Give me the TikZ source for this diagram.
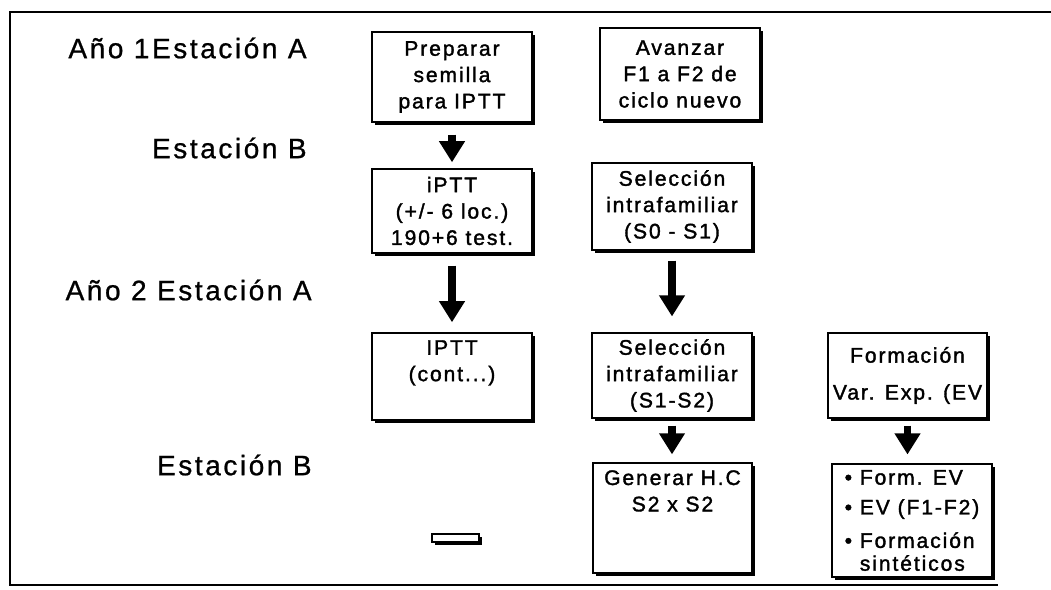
\documentclass[tikz,border=0pt]{standalone}
\usepackage{fontspec}
\setmainfont{Liberation Sans}[LetterSpace=9]
\newfontfamily\boxfont{Liberation Sans}[LetterSpace=9, FakeBold=1.6]
\newfontfamily\rowfont{Liberation Sans}[LetterSpace=9, FakeBold=0.8]
\usetikzlibrary{positioning,shadows,arrows.meta}

\begin{document}
\begin{tikzpicture}[
	box/.style={draw, rectangle, fill=white, line width=0.8pt, align=center,
		drop shadow={shadow xshift=1.8pt, shadow yshift=-1.8pt, fill=black, opacity=1},
		font=\boxfont\fontsize{12}{15}\selectfont},
	inbox/.style={align=center, font=\boxfont\fontsize{12}{15}\selectfont},
	rowlabel/.style={anchor=east, inner sep=0pt, font=\rowfont\fontsize{16}{19}\selectfont},
	flow/.style={line width=4.2pt, -{Triangle[width=14pt,length=12pt]}}
	]
			
			\useasboundingbox (0,0) rectangle (21.02,-11.78);
			
			%Frame
			\draw[line width=0.9pt] (21.02,-0.24) -- (0.2,-0.24) -- (0.2,-11.7) -- (19.96,-11.7);
			
			%Years and stations
			\node (year one a) at (6.14,-0.96) [rowlabel]{Año 1Estación A};
			\node (year one b) at (6.14,-2.96) [rowlabel]{Estación B};
			\node (year two a) at (6.24,-5.8) [rowlabel]{Año 2 Estación A};
			\node (year two b) at (6.24,-9.3) [rowlabel]{Estación B};
			
			%First column
			\node (prep) at (9.04,-1.54) [box, minimum height=1.8cm, minimum width=3.2cm]{Preparar\\semilla\\para IPTT};
			\node (iptt) at (9.04,-4.22) [box, minimum height=1.68cm, minimum width=3.2cm]{iPTT\\(+/- 6 loc.)\\190+6 test.};
			\node (cont) at (9.04,-7.53) [box, minimum height=1.74cm, minimum width=3.2cm]{};
			\node (cont text) [inbox, below=1pt of cont.north]{IPTT\\(cont...)};
			\node (slot) at (9.11,-10.76) [box, minimum height=0.16cm, minimum width=0.94cm, inner sep=0pt]{};
			
			%Second column
			\node (avan) at (13.6,-1.48) [box, minimum height=1.84cm, minimum width=3.2cm]{Avanzar\\F1 a F2 de\\ciclo nuevo};
			\node (sel one) at (13.44,-4.13) [box, minimum height=1.74cm, minimum width=3.2cm]{Selección\\intrafamiliar\\(S0 - S1)};
			\node (sel two) at (13.44,-7.51) [box, minimum height=1.7cm, minimum width=3.2cm]{Selección\\intrafamiliar\\(S1-S2)};
			\node (gen) at (13.45,-10.36) [box, minimum height=2.2cm, minimum width=3.18cm]{};
			\node (gen text) [inbox, below=1pt of gen.north]{Generar H.C\\S2 x S2};
			
			%Third column
			\node (form) at (18.15,-7.51) [box, minimum height=1.7cm, minimum width=3.18cm, inner sep=1pt]{Formación\\[6pt]Var. Exp. (EV};
			\node (bul) at (18.24,-10.41) [box, minimum height=2.26cm, minimum width=3.2cm, align=left]{\textbullet\ Form. EV\\[2pt]\textbullet\ EV (F1-F2)\\[4pt]\textbullet\ Formación\\[-2pt]\hphantom{\textbullet\ }sintéticos};
			
			%Arrows
			\draw[flow, shorten <=6.8pt, shorten >=3.4pt] (prep.south) -- (iptt.north);
			\draw[flow, shorten <=6.8pt, shorten >=5.7pt] (iptt.south) -- (cont.north);
			\draw[flow, shorten <=5.7pt, shorten >=9pt] (sel one.south) -- (sel two.north);
			\draw[flow, shorten <=4pt, shorten >=4.5pt] (sel two.south) -- (sel two.south |- gen.north);
			\draw[flow, shorten <=4pt, shorten >=5pt] (form.south) -- (form.south |- bul.north);
			
\end{tikzpicture}
\end{document}
